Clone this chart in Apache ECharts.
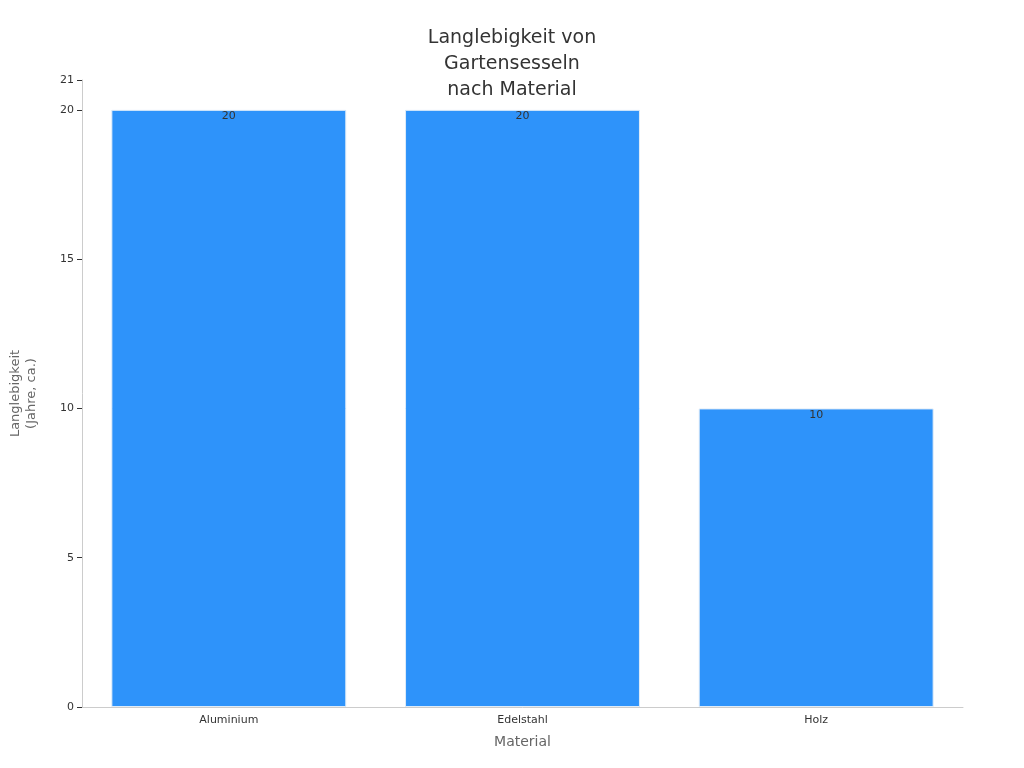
<!DOCTYPE html>
<html><head><meta charset="utf-8">
<script src="https://cdn.jsdelivr.net/npm/echarts@6/dist/echarts.min.js"></script>
<style>html,body{margin:0;padding:0;background:#fff}#c{width:1024px;height:768px}</style>
</head><body><div id="c"></div>
<script>
const categories = ["Aluminium", "Edelstahl", "Holz"];
const values = [20, 20, 10];
const chart = echarts.init(document.getElementById('c'));
chart.setOption({
  title: {text: "Langlebigkeit von\nGartensesseln\nnach Material", left: 'center', top: 20,
    textStyle: {fontFamily: 'DejaVu Sans', fontSize: 19, fontWeight: 'normal', color: '#333', lineHeight: 26}},
  grid: {left: 78, right: 61, top: 80, bottom: 61},
  xAxis: {type: 'category', data: categories, name: 'Material', nameLocation: 'middle', nameGap: 28,
    nameTextStyle: {fontFamily: 'DejaVu Sans', fontSize: 14, color: '#666'},
    axisLine: {lineStyle: {color: '#ccc'}}, axisTick: {show: false},
    axisLabel: {fontFamily: 'DejaVu Sans', fontSize: 11, color: '#333'}},
  yAxis: {type: 'value', min: 0, max: 21, interval: 5, name: 'Langlebigkeit\n(Jahre, ca.)', nameLocation: 'middle', nameGap: 42,
    nameTextStyle: {fontFamily: 'DejaVu Sans', fontSize: 13, color: '#666', lineHeight: 16},
    axisLine: {show: true, lineStyle: {color: '#ccc'}}, axisTick: {show: true, lineStyle: {color: '#333'}},
    splitLine: {show: false},
    axisLabel: {fontFamily: 'DejaVu Sans', fontSize: 11, color: '#333'}},
  series: [{type: 'bar', data: values, barWidth: '80%',
    itemStyle: {color: '#2e93fa', borderColor: '#e0ecf8', borderWidth: 1},
    label: {show: true, position: 'insideTop', offset: [0, -4], color: '#333', fontFamily: 'DejaVu Sans', fontSize: 11}}]
});
</script></body></html>
